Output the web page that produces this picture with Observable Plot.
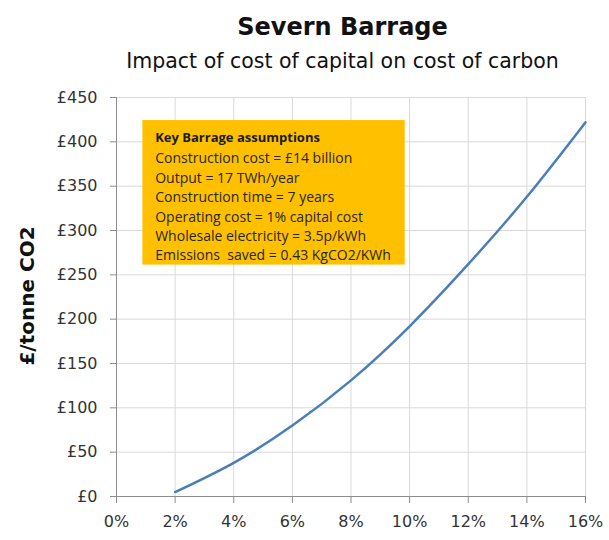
<!DOCTYPE html>
<html><head><meta charset="utf-8">
<script src="https://cdn.jsdelivr.net/npm/d3@7"></script>
<script src="https://cdn.jsdelivr.net/npm/@observablehq/plot@0.6"></script>
<style>
body{margin:0;background:#fff;width:609px;height:540px;overflow:hidden;font-family:"DejaVu Sans",sans-serif;color:#111;}
#title{position:absolute;left:76px;width:533px;top:12px;text-align:center;font-weight:bold;font-size:24px;line-height:30px;}
#subtitle{position:absolute;left:76px;width:533px;top:48px;text-align:center;font-size:20.5px;line-height:26px;}
#chart{position:absolute;left:0;top:80px;}
</style></head><body>
<div id="title">Severn Barrage</div>
<div id="subtitle">Impact of cost of capital on cost of carbon</div>
<div id="chart"></div>
<script>
// Data
const costOfCapital = [2, 4, 6, 8, 10, 12, 14, 16];          // %
const carbonCost = [5, 38, 80, 131, 192, 262, 338, 422];      // £/tonne CO2
const xTicks = [0, 2, 4, 6, 8, 10, 12, 14, 16];
const yTicks = [0, 50, 100, 150, 200, 250, 300, 350, 400, 450];
const yLabel = "£/tonne CO2";
const assumptionsTitle = "Key Barrage assumptions";
const assumptions = [
  "Construction cost = £14 billion",
  "Output = 17 TWh/year",
  "Construction time = 7 years",
  "Operating cost = 1% capital cost",
  "Wholesale electricity = 3.5p/kWh",
  "Emissions  saved = 0.43 KgCO2/KWh"
];

const data = costOfCapital.map((x, i) => ({x, y: carbonCost[i]}));
const box = {x1: 0.9, x2: 9.85, y1: 261, y2: 424};

const plot = Plot.plot({
  width: 609, height: 460,
  marginLeft: 116, marginRight: 24, marginTop: 17, marginBottom: 44,
  style: {fontFamily: "DejaVu Sans", fontSize: "16px", background: "#fff", overflow: "visible"},
  x: {domain: [0, 16]},
  y: {domain: [0, 450]},
  marks: [
    Plot.gridX(xTicks, {stroke: "#d9d9d9", strokeOpacity: 1}),
    Plot.gridY(yTicks, {stroke: "#d9d9d9", strokeOpacity: 1}),
    Plot.ruleX([0], {stroke: "#8c8c8c"}),
    Plot.ruleY([0], {stroke: "#8c8c8c"}),
    Plot.axisX(xTicks, {tickSize: 7, tickPadding: 12, stroke: "#8c8c8c", fill: "#333", fontSize: 16, tickFormat: d => d + "%", label: null}),
    Plot.axisY(yTicks, {tickSize: 6, tickPadding: 13, stroke: "#8c8c8c", fill: "#333", fontSize: 16, tickFormat: d => "£" + d, label: null}),
    Plot.rect([box], {x1: "x1", x2: "x2", y1: "y1", y2: "y2", fill: "#FFC000"}),
    Plot.text([assumptionsTitle], {x: 1.32, y: 405, text: d => d, textAnchor: "start", fontWeight: "bold", fontSize: 13, fontFamily: "Open Sans", fill: "#1a1a1a"}),
    Plot.text([assumptions.join("\n")], {x: 1.32, y: 328, text: d => d, textAnchor: "start", lineAnchor: "middle", lineHeight: 1.386, fontSize: 14, fontFamily: "Open Sans", fill: "#262626"}),
    Plot.line(data, {x: "x", y: "y", stroke: "#4a7ebb", strokeWidth: 2.5, curve: "natural"}),
    Plot.text([yLabel], {frameAnchor: "left", dx: -89, dy: -1, rotate: -90, textAnchor: "middle", text: d => d, fontWeight: "bold", fontSize: 20, fill: "#111"})
  ]
});
document.getElementById("chart").appendChild(plot);
</script>
</body></html>
